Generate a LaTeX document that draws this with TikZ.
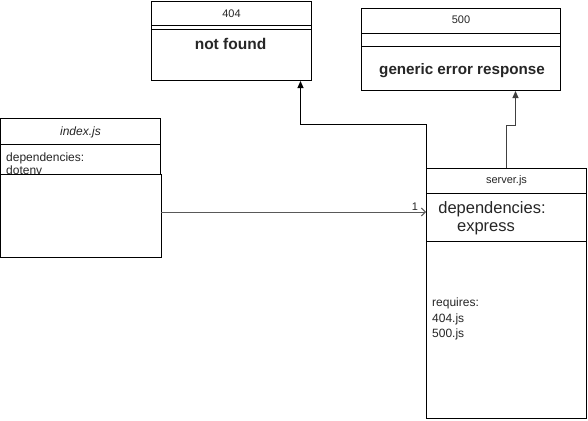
\documentclass[tikz,border=0pt]{standalone}
\usepackage{fontspec}
\setmainfont{Liberation Sans}
\usetikzlibrary{arrows.meta,calc}
\begin{document}
\begin{tikzpicture}[x=1pt,y=-1pt,
  box/.style={draw=black,fill=white,line width=1pt,inner sep=0pt,anchor=north west},
  divider/.style={draw=black,line width=1pt},
  lbl/.style={text=black!85,inner sep=0pt},
  small/.style={lbl,font=\fontsize{11}{13}\selectfont},
  body/.style={lbl,font=\fontsize{12}{15.5}\selectfont},
  big/.style={lbl,font=\fontsize{16.5}{19}\selectfont},
  boldt/.style={lbl,font=\fontsize{15.5}{18}\selectfont\bfseries},
  conn/.style={draw=black,line width=1pt,-{Triangle[length=7pt,width=6pt]}},
  openconn/.style={draw=black!65,line width=1pt,-{Straight Barb[length=4pt,width=8pt]}}]
\useasboundingbox (0,0) rectangle (588,420);

% boxes
\node[box,minimum width=160pt,minimum height=138pt] (index) at (0,118) {};
\node[box,minimum width=160pt,minimum height=79pt] (nf) at (151,1) {};
\node[box,minimum width=199pt,minimum height=82pt] (ge) at (361,8) {};
\node[box,minimum width=160pt,minimum height=250pt] (server) at (426,168) {};

% index.js
\draw[divider] ($(index.north west)+(0,26)$) -- ($(index.north east)+(0,26)$);
\node[lbl,font=\fontsize{12}{14}\selectfont\itshape] (indext) at ($(index.north)+(0,14)$) {index.js};
\node[body,font=\fontsize{12}{13}\selectfont,anchor=north west,align=left] (indexdep) at (6,153) {dependencies:\\dotenv};
\draw[divider,fill=white] ($(index.north west)+(0,56)$) rectangle (index.south east);

% 404
\draw[divider] ($(nf.north west)+(0,25)$) -- ($(nf.north east)+(0,25)$);
\draw[divider] ($(nf.north west)+(0,29)$) -- ($(nf.north east)+(0,29)$);
\node[small] (nft) at ($(nf.north)+(0,13)$) {404};
\node[boldt] (nfb) at ($(nf.north)+(-1,43)$) {not found};

% 500
\draw[divider] ($(ge.north west)+(0,26)$) -- ($(ge.north east)+(0,26)$);
\draw[divider] ($(ge.north west)+(0,39)$) -- ($(ge.north east)+(0,39)$);
\node[small] (get) at ($(ge.north)+(0,12)$) {500};
\node[boldt,font=\fontsize{15.2}{18}\selectfont\bfseries] (geb) at ($(ge.north)+(1,63)$) {generic error response};

% server.js
\draw[divider] ($(server.north west)+(0,25)$) -- ($(server.north east)+(0,25)$);
\draw[divider] ($(server.north west)+(0,73)$) -- ($(server.north east)+(0,73)$);
\node[small] (servert) at ($(server.north)+(0,13)$) {server.js};
\node[big] (sdep) at (492,209) {dependencies:};
\node[big] (sexp) at (486,229) {express};
\node[body,anchor=north west,align=left] (sreq) at (432,298) {requires:\\404.js\\500.js};

% connectors
\coordinate (ay) at (0,212);
\draw[openconn] (index.east |- ay) -- (server.west |- ay)
  node[small,pos=1,xshift=-11pt,yshift=5pt] (one) {1};
\draw[conn] (server.north west) -- ++(0,-44) -| ([xshift=69pt]nf.south);
\draw[conn,draw=black!75] (server.north) -- ++(0,-43) -| ([xshift=54.5pt]ge.south);
\end{tikzpicture}
\end{document}
